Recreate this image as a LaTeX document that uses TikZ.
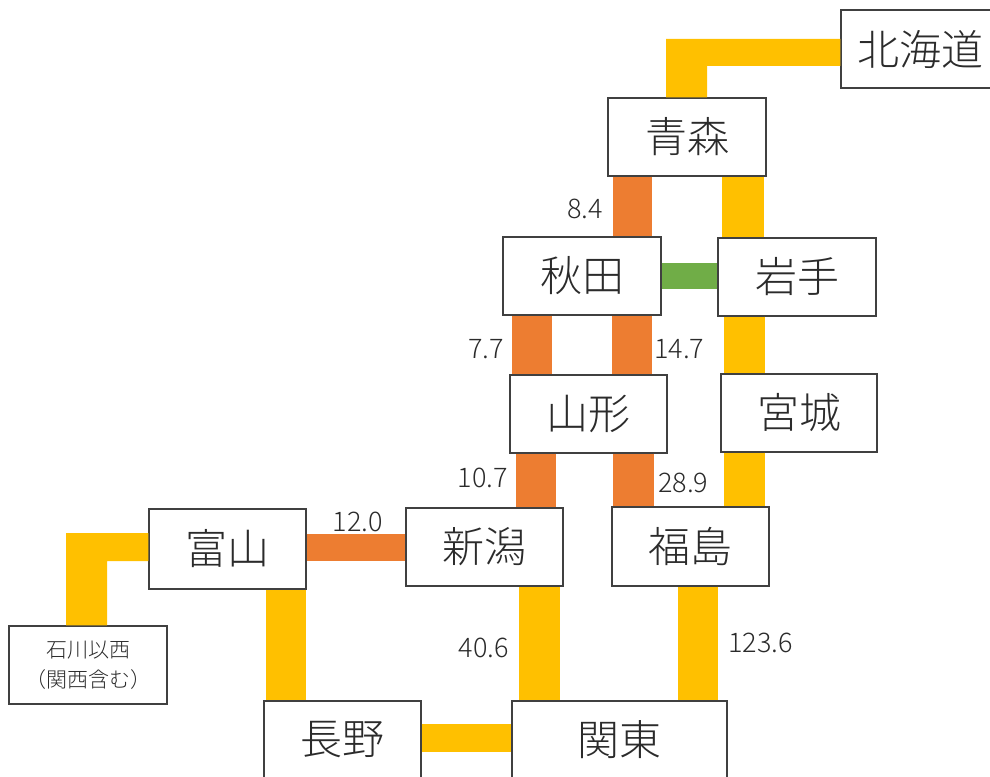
\documentclass[tikz,border=0pt]{standalone}
\usepackage{fontspec}
\setmainfont{Noto Sans CJK JP Light}
\definecolor{ora}{HTML}{ED7D31}
\definecolor{yel}{HTML}{FFC000}
\definecolor{grn}{HTML}{70AD47}
\definecolor{ink}{HTML}{2B2B2B}
\definecolor{edge}{HTML}{404040}
\tikzset{
  box/.style={draw=edge, line width=1.4pt, fill=white, minimum width=158pt,
    minimum height=78pt, inner sep=0pt, text=ink, font=\fontsize{42}{44}\selectfont},
  num/.style={text=ink, font=\fontsize{27}{29}\selectfont, inner sep=0pt},
}
\begin{document}
\begin{tikzpicture}[x=1pt, y=-1pt]
\useasboundingbox (0,0) rectangle (990,776);
\fill[white] (0,0) rectangle (990,776);

% boxes
\node[box] (hok) at (920,49) {北海道};
\node[box] (aomori) at (687,137) {青森};
\node[box] (akita) at (582,276) {秋田};
\node[box] (iwate) at (797,277) {岩手};
\node[box, minimum width=157pt] (yamagata) at (588.5,414) {山形};
\node[box, minimum width=156pt] (miyagi) at (799,413) {宮城};
\node[box, minimum width=157pt] (niigata) at (484.5,547) {新潟};
\node[box, minimum width=157pt, minimum height=79pt] (fukushima) at (690.5,546.5) {福島};
\node[box, minimum width=157pt, minimum height=80pt] (toyama) at (227.5,549) {富山};
\node[box, align=center, font=\fontsize{21}{30}\selectfont] (ishi) at (88,665) {石川以西\\（関西含む）};
\node[box, minimum width=157pt] (nagano) at (342.5,740) {長野};
\node[box, minimum width=215pt] (kanto) at (619.5,740) {関東};

% guide coordinates
\coordinate (xHokL) at (666,0);
\coordinate (xHokR) at (707,0);
\coordinate (xAoAk) at (632.5,0);
\coordinate (xAoIw) at (743,0);
\coordinate (xAkYaL) at (532,0);
\coordinate (xAkYaR) at (632,0);
\coordinate (xIwMi) at (744.5,0);
\coordinate (xYaNi) at (536,0);
\coordinate (xYaFu) at (633.5,0);
\coordinate (xMiFu) at (744.5,0);
\coordinate (xToNa) at (286,0);
\coordinate (xNiKa) at (539.5,0);
\coordinate (xFuKa) at (698,0);
\coordinate (xIshL) at (66,0);
\coordinate (xIshR) at (107,0);
\coordinate (yAkIw) at (0,276);
\coordinate (yToNi) at (0,547.5);
\coordinate (yNaKa) at (0,738);

% connectors
\fill[yel] ([yshift=10pt]hok.west) -| (xHokL |- aomori.north) -- (xHokR |- aomori.north)
  |- ([yshift=-17pt]hok.west) -- cycle;
\draw[ora, line width=39pt] (xAoAk |- aomori.south) -- (xAoAk |- akita.north);
\draw[yel, line width=42pt] (xAoIw |- aomori.south) -- (xAoIw |- iwate.north);
\draw[grn, line width=26pt] (akita.east |- yAkIw) -- (iwate.west |- yAkIw);
\draw[ora, line width=40pt] (xAkYaL |- akita.south) -- (xAkYaL |- yamagata.north);
\draw[ora, line width=40pt] (xAkYaR |- akita.south) -- (xAkYaR |- yamagata.north);
\draw[yel, line width=41pt] (xIwMi |- iwate.south) -- (xIwMi |- miyagi.north);
\draw[ora, line width=40pt] (xYaNi |- yamagata.south) -- (xYaNi |- niigata.north);
\draw[ora, line width=41pt] (xYaFu |- yamagata.south) -- (xYaFu |- fukushima.north);
\draw[yel, line width=41pt] (xMiFu |- miyagi.south) -- (xMiFu |- fukushima.north);
\draw[ora, line width=27pt] (toyama.east |- yToNi) -- (niigata.west |- yToNi);
\fill[yel] ([yshift=16pt]toyama.west) -| (xIshL |- ishi.north) -- (xIshR |- ishi.north)
  |- ([yshift=-12pt]toyama.west) -- cycle;
\draw[yel, line width=40pt] (xToNa |- toyama.south) -- (xToNa |- nagano.north);
\draw[yel, line width=41pt] (xNiKa |- niigata.south) -- (xNiKa |- kanto.north);
\draw[yel, line width=40pt] (xFuKa |- fukushima.south) -- (xFuKa |- kanto.north);
\draw[yel, line width=28pt] (nagano.east |- yNaKa) -- (kanto.west |- yNaKa);

% labels
\node[num, anchor=east] (l84) at (603,209) {8.4};
\node[num, anchor=east] (l77) at (504,349) {7.7};
\node[num, anchor=west] (l147) at (654,349) {14.7};
\node[num, anchor=east] (l107) at (508,478) {10.7};
\node[num, anchor=west] (l289) at (658,483) {28.9};
\node[num] (l120) at (358,522) {12.0};
\node[num, anchor=east] (l406) at (509,648) {40.6};
\node[num, anchor=west] (l1236) at (728,643) {123.6};
\end{tikzpicture}
\end{document}
